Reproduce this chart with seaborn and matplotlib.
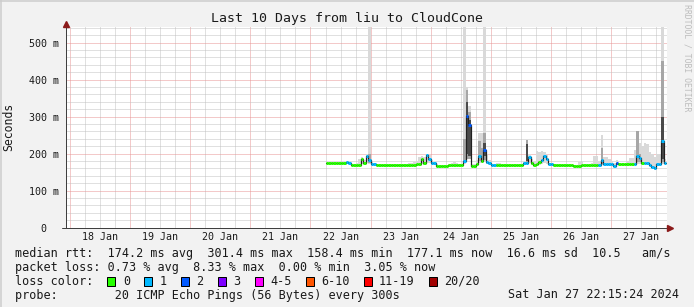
import numpy as np
import matplotlib
matplotlib.use("Agg")
import matplotlib.pyplot as plt
import matplotlib.transforms as mtransforms
from matplotlib.patches import Rectangle
from matplotlib.lines import Line2D
import seaborn as sns

# ---------------- data ----------------
TITLE = "Last 10 Days from liu to CloudCone"
DAY_LABELS = ["18 Jan", "19 Jan", "20 Jan", "21 Jan", "22 Jan",
              "23 Jan", "24 Jan", "25 Jan", "26 Jan", "27 Jan"]
Y_TICKS = [0, 100, 200, 300, 400, 500]
Y_TICK_LABELS = ["0  ", "100 m", "200 m", "300 m", "400 m", "500 m"]

# hourly bins starting 22 Jan 06:00 (hours counted from 22 Jan 00:00)
FIRST_HOUR = 6
median_ms = [176, 176, 176, 175, 176, 176, 175, 176,
             177, 176,
             170, 170, 170, 170,
             186, 174, 195, 182, 173, 172,
             170, 170, 170, 169, 169, 170, 170, 170, 170, 169, 169, 170, 170, 170, 170, 170, 171,
             172, 187, 176, 197, 185, 176, 174, 168,
             167, 167, 166, 167,
             169, 169, 169, 169, 169, 169,
             181, 301, 278, 167, 167, 172, 193, 180, 211, 177, 176, 169, 169,
             169, 169, 169, 170, 169, 169, 169, 169, 169, 169, 169,
             176, 176, 192, 176, 170, 173, 178, 184, 193, 185, 172, 171,
             170, 170, 170, 170, 170, 170, 170, 170, 168, 168, 168, 170, 170, 170, 170, 170, 170, 170,
             170, 183, 171, 171, 171, 171, 168, 176,
             171, 171, 171, 171, 171, 171,
             173, 195, 189, 174, 176, 176, 170, 163, 160, 171, 171, 233, 176]
loss_count = [0, 0, 0, 0, 0, 0, 0, 0,
              1, 1,
              0, 0, 0, 0,
              0, 0, 1, 1, 1, 1,
              0, 0, 0, 0, 0, 0, 0, 0, 0, 0, 0, 0, 0, 0, 0, 0, 0,
              0, 0, 0, 1, 1, 1, 1, 0,
              0, 0, 0, 0,
              0, 0, 0, 0, 0, 0,
              1, 2, 2, 0, 0, 0, 1, 0, 2, 1, 1, 1, 1,
              0, 0, 0, 0, 0, 0, 0, 0, 0, 0, 0,
              1, 1, 1, 0, 0, 0, 0, 1, 1, 1, 1, 1,
              0, 0, 0, 0, 0, 0, 0, 0, 0, 0, 0, 0, 0, 0, 0, 0, 0, 0,
              1, 1, 1, 1, 1, 1, 1, 2,
              0, 0, 0, 0, 0, 0,
              1, 1, 1, 0, 1, 1, 1, 1, 1, 1, 1, 1, 1]
smoke_min = [174, 174, 174, 173, 174, 174, 173, 174,
             175, 174,
             168, 168, 168, 168,
             172, 172, 176, 172, 170, 170,
             168, 168, 168, 168, 168, 168, 168, 168, 168, 168, 168, 168, 168, 168, 168, 168, 168,
             169, 172, 170, 176, 174, 172, 171, 166,
             165, 165, 164, 165,
             167, 167, 167, 167, 167, 167,
             172, 190, 185, 165, 165, 168, 175, 174, 180, 172, 172, 167, 167,
             167, 167, 167, 167, 167, 167, 167, 167, 167, 167, 167,
             172, 172, 174, 170, 168, 169, 170, 172, 174, 172, 169, 169,
             168, 168, 168, 168, 168, 168, 168, 168, 166, 166, 166, 168, 168, 168, 168, 168, 168, 168,
             168, 170, 169, 169, 169, 169, 166, 170,
             169, 169, 169, 169, 169, 169,
             170, 172, 172, 171, 172, 172, 167, 160, 157, 168, 168, 172, 172]
smoke_max = [178, 178, 178, 177, 178, 178, 177, 178,
             181, 179,
             172, 172, 176, 185,
             192, 182, 200, 545, 178, 176,
             172, 172, 172, 172, 172, 172, 172, 172, 172, 172, 172, 172, 172, 174, 176, 178, 180,
             190, 195, 192, 200, 196, 182, 178, 171,
             169, 169, 169, 169,
             172, 176, 177, 176, 172, 172,
             545, 380, 330, 171, 171, 182, 256, 256, 545, 200, 182, 172, 172,
             174, 174, 173, 171, 171, 171, 171, 171, 171, 172, 171,
             180, 236, 200, 185, 180, 206, 204, 206, 204, 196, 176, 174,
             172, 172, 172, 172, 172, 172, 172, 172, 170, 170, 177, 177, 172, 172, 172, 174, 195, 195,
             180, 251, 190, 190, 186, 180, 176, 184,
             173, 173, 173, 180, 189, 189,
             210, 262, 228, 220, 228, 225, 205, 200, 190, 200, 200, 545, 185]

# denser parts of the smoke (hour, low ms, high ms)
mid_hours = [23, 61, 62, 63, 67, 68, 69, 86, 116, 130, 131, 140]
mid_lo = [175, 175, 185, 185, 180, 178, 182, 175, 172, 178, 178, 178]
mid_hi = [200, 240, 371, 313, 235, 215, 256, 236, 215, 262, 200, 450]
dark_hours = [62, 63, 69, 86, 140]
dark_lo = [200, 195, 195, 180, 185]
dark_hi = [340, 290, 230, 225, 300]

LOSS_LABELS = ["0", "1", "2", "3", "4-5", "6-10", "11-19", "20/20"]
LOSS_UPPER = [0, 1, 2, 3, 5, 10, 19, 20]
LOSS_COLORS = ["#26ff00", "#00b8ff", "#0059ff", "#7e00ff",
               "#ff00ff", "#ff5500", "#ff0000", "#a10000"]

RTT_STATS = ["174.2", "301.4", "158.4", "177.1", "16.6", "10.5"]
LOSS_STATS = ["0.73", "8.33", "0.00", "3.05"]
PROBE = "20 ICMP Echo Pings (56 Bytes) every 300s"
STAMP = "Sat Jan 27 22:15:24 2024"

# ---------------- style ----------------
W, H = 694, 307
sns.set_style("white")
plt.rcParams["font.family"] = ["DejaVu Sans Mono"]
MONO = "DejaVu Sans Mono"
BG = "#f2f2f2"

fig = plt.figure(figsize=(W / 100, H / 100), dpi=100)
fig.patch.set_facecolor(BG)

px_l, px_r, px_t, px_b = 65.7, 666.7, 26.7, 227.7
ax = fig.add_axes([px_l / W, 1 - px_b / H, (px_r - px_l) / W, (px_b - px_t) / H])
ax.set_facecolor("white")

x0 = -1.75 / 24
x1 = 9 + 22.25 / 24
ax.set_xlim(x0, x1)
ax.set_ylim(0, 543.2)

PX = 0.72  # one pixel in points

# grid
ax.set_xticks(np.arange(0, 10))
ax.set_xticks(np.arange(0, 10, 0.25), minor=True)
ax.set_yticks(Y_TICKS)
ax.set_yticks(np.arange(0, 541, 20), minor=True)
ax.grid(which="minor", color="#c2c2c2", linestyle=(0, (1, 1)), linewidth=PX)
ax.grid(which="major", color="#e89494", linestyle=(0, (1, 1)), linewidth=PX)
ax.set_axisbelow(True)
ax.set_xticklabels([])
ax.set_yticklabels(Y_TICK_LABELS, fontsize=7.2, family=MONO, color="#1a1a1a")
ax.tick_params(axis="y", which="major", length=1.5, width=PX, color="#e89494", pad=3.6)
ax.tick_params(axis="x", which="major", length=1.5, width=PX, color="#e89494", pad=0)
ax.tick_params(which="minor", length=0)
for d, lab in enumerate(DAY_LABELS):
    ax.text(d + 0.5, -9.0 / 201 * 543.2, lab, ha="center", va="center",
            fontsize=7.2, family=MONO, color="#1a1a1a", clip_on=False)

for s in ["top", "right"]:
    ax.spines[s].set_visible(False)
ax.spines["left"].set_color("#404040")
ax.spines["bottom"].set_color("#404040")
ax.spines["left"].set_linewidth(PX)
ax.spines["bottom"].set_linewidth(PX)

# ---------------- smoke ----------------
n = len(median_ms)
hours = FIRST_HOUR + np.arange(n)
xl = 4 + hours / 24.0
xe = np.append(xl, xl[-1] + 1 / 24.0)
mn = np.append(smoke_min, smoke_min[-1])
mx = np.append(smoke_max, smoke_max[-1])
ax.fill_between(xe, mn, mx, step="post", color="#d9d9d9", linewidth=0, zorder=2)

mid_x = 4 + np.array(mid_hours) / 24.0
ax.bar(mid_x, np.array(mid_hi) - np.array(mid_lo), bottom=mid_lo, width=1 / 24.0,
       align="edge", color="#a6a6a6", linewidth=0, zorder=3)
dark_x = 4 + np.array(dark_hours) / 24.0
ax.bar(dark_x, np.array(dark_hi) - np.array(dark_lo), bottom=dark_lo, width=1 / 24.0,
       align="edge", color="#4a4a4a", linewidth=0, zorder=4)

# ---------------- median ----------------
med_e = np.append(median_ms, median_ms[-1])
sns.lineplot(x=xe, y=med_e, drawstyle="steps-post", color="#202020",
             linewidth=PX * 1.2, ax=ax, zorder=5, sort=False)


def loss_class(c):
    for i, up in enumerate(LOSS_UPPER):
        if c <= up:
            return i
    return len(LOSS_UPPER) - 1


classes = np.array([loss_class(c) for c in loss_count])
seg_colors = [LOSS_COLORS[c] for c in classes]
ax.hlines(median_ms, xe[:-1], xe[1:], colors=seg_colors, linewidth=3 * PX,
          zorder=6, capstyle="butt")

# ---------------- arrows ----------------
arrow_col = "#8b1a1a"
ax.plot([x0], [543.2], marker="^", markersize=5, color=arrow_col, clip_on=False,
        transform=mtransforms.offset_copy(ax.transData, fig=fig, y=2.5, units="dots"), zorder=7)
ax.plot([x1], [0], marker=">", markersize=5, color=arrow_col, clip_on=False,
        transform=mtransforms.offset_copy(ax.transData, fig=fig, x=3.5, units="dots"), zorder=7)
ax.plot([x0 - 4 / 60.0, x0], [0, 0], color="#404040", linewidth=PX, clip_on=False, zorder=7)

# ---------------- texts ----------------
fig.text(346.7 / W, 1 - 18.3 / H, TITLE, ha="center", va="center",
         fontsize=9.5, family=MONO, color="#1a1a1a")
fig.text(8.7 / W, 1 - 127 / H, "Seconds", ha="center", va="center", rotation=90,
         fontsize=8.3, family=MONO, color="#1a1a1a")
fig.text(686.5 / W, 1 - 4 / H, "RRDTOOL / TOBI OETIKER", ha="center", va="top",
         rotation=270, fontsize=5.9, family=MONO, color="#bdbdbd")

CW = 7.1  # px per character in legend font
LX = 15.0
LFS = 8.5
line_y = [253.3, 267.3, 281.3, 295.0]
l1 = ("median rtt:  {} ms avg  {} ms max  {} ms min  {} ms now  {} ms sd  {}   am/s"
      .format(*RTT_STATS))
l2 = "packet loss: {} % avg  {} % max  {} % min  {} % now".format(*LOSS_STATS)
fig.text(LX / W, 1 - line_y[0] / H, l1, ha="left", va="center", fontsize=LFS,
         family=MONO, color="#1a1a1a")
fig.text(LX / W, 1 - line_y[1] / H, l2, ha="left", va="center", fontsize=LFS,
         family=MONO, color="#1a1a1a")
fig.text(LX / W, 1 - line_y[2] / H, "loss color:", ha="left", va="center",
         fontsize=LFS, family=MONO, color="#1a1a1a")
pos = LX + 13 * CW
for lab, col in zip(LOSS_LABELS, LOSS_COLORS):
    fig.add_artist(Rectangle((pos / W, 1 - (line_y[2] + 4.2) / H), 8 / W, 8.4 / H,
                             transform=fig.transFigure, facecolor=col,
                             edgecolor="black", linewidth=PX))
    tx = pos + 15.5
    fig.text(tx / W, 1 - line_y[2] / H, lab, ha="left", va="center", fontsize=LFS,
             family=MONO, color="#1a1a1a")
    pos = tx + (len(lab) + 2) * CW
fig.text(LX / W, 1 - line_y[3] / H, "probe:        " + PROBE, ha="left", va="center",
         fontsize=LFS, family=MONO, color="#1a1a1a")
fig.text(679 / W, 1 - line_y[3] / H, STAMP, ha="right", va="center", fontsize=LFS,
         family=MONO, color="#1a1a1a")

# frame
fig.add_artist(Line2D([0, 1], [1 - 0.5 / H, 1 - 0.5 / H], transform=fig.transFigure,
                      color="#cccccc", linewidth=1.5 * PX))
fig.add_artist(Line2D([0.5 / W, 0.5 / W], [0, 1], transform=fig.transFigure,
                      color="#cccccc", linewidth=1.5 * PX))

fig.savefig("out.png", dpi=100, facecolor=BG)
